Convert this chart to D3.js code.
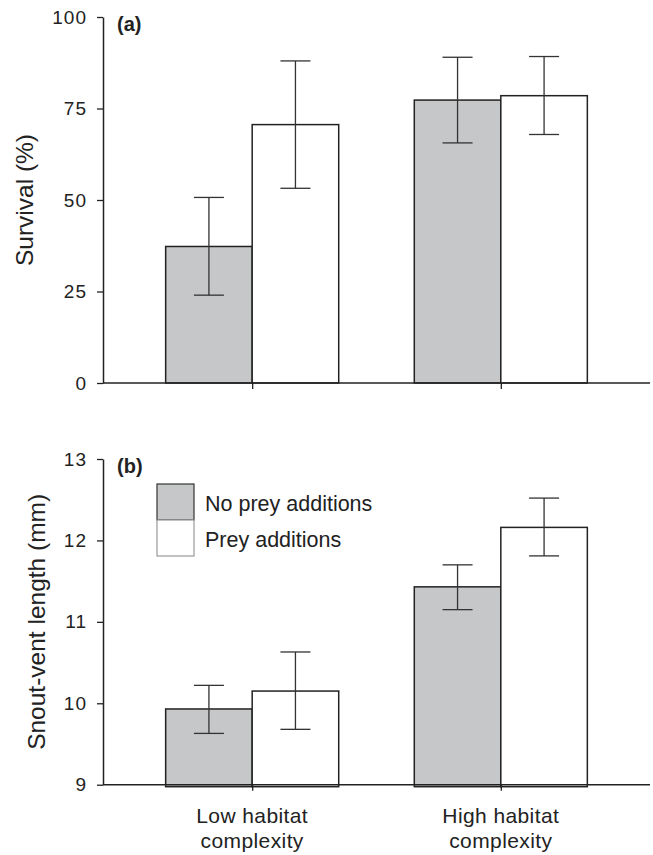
<!DOCTYPE html>
<html>
<head>
<meta charset="utf-8">
<title>Survival and snout-vent length</title>
<script src="https://d3js.org/d3.v7.min.js"></script>
<style>
  body { margin: 0; background: #fff; }
  svg { display: block; font-family: "Liberation Sans", Arial, Helvetica, sans-serif; }
  .yaxis text { fill: #222; font-size: 19px; letter-spacing: 1px; }
</style>
</head>
<body>
<svg id="chart"></svg>
<script>
// data
var categories = ["Low habitat complexity", "High habitat complexity"];
var categoryLines = [["Low habitat", "complexity"], ["High habitat", "complexity"]];
var series = ["No prey additions", "Prey additions"];

// panel (a) survival (%)
var survNoPrey = [37.3, 77.3];
var survNoPreyLow = [24.0, 65.6];
var survNoPreyHigh = [50.7, 89.0];
var survPrey = [70.6, 78.5];
var survPreyLow = [53.2, 67.9];
var survPreyHigh = [88.0, 89.2];
var survTicks = [0, 25, 50, 75, 100];

// panel (b) snout-vent length (mm)
var svlNoPrey = [9.93, 11.43];
var svlNoPreyLow = [9.63, 11.15];
var svlNoPreyHigh = [10.22, 11.70];
var svlPrey = [10.15, 12.16];
var svlPreyLow = [9.68, 11.81];
var svlPreyHigh = [10.63, 12.52];
var svlTicks = [9, 10, 11, 12, 13];

var fills = ["#c6c7c9", "#ffffff"];
var ink = "#222";

var width = 653, height = 855;
var svg = d3.select("#chart").attr("width", width).attr("height", height);

var x0 = d3.scaleBand().domain(categories).range([103, 650])
    .paddingInner(0.304).paddingOuter(0.252);
var x1 = d3.scaleBand().domain(series).range([0, x0.bandwidth()]);

function panel(opts) {
    var y = d3.scaleLinear().domain(opts.domain).range(opts.range);
    var g = svg.append("g");

    var rows = [];
    categories.forEach(function (c, i) {
        rows.push({cat: c, s: series[0], v: opts.a[i], lo: opts.aLo[i], hi: opts.aHi[i], f: fills[0]});
        rows.push({cat: c, s: series[1], v: opts.b[i], lo: opts.bLo[i], hi: opts.bHi[i], f: fills[1]});
    });

    // bars
    g.selectAll("rect.bar").data(rows).enter().append("rect")
        .attr("class", "bar")
        .attr("x", function (d) { return x0(d.cat) + x1(d.s); })
        .attr("width", x1.bandwidth())
        .attr("y", function (d) { return y(d.v); })
        .attr("height", function (d) { return y(opts.domain[0]) - y(d.v) + opts.drop; })
        .attr("fill", function (d) { return d.f; })
        .attr("stroke", ink)
        .attr("stroke-width", 1.5);

    // error bars
    var cap = 15;
    var eb = g.selectAll("g.err").data(rows).enter().append("g")
        .attr("class", "err")
        .attr("stroke", "#333")
        .attr("stroke-width", 1.3);
    function cx(d) { return x0(d.cat) + x1(d.s) + x1.bandwidth() / 2; }
    eb.append("line")
        .attr("x1", cx).attr("x2", cx)
        .attr("y1", function (d) { return y(d.lo); })
        .attr("y2", function (d) { return y(d.hi); });
    eb.append("line")
        .attr("x1", function (d) { return cx(d) - cap; })
        .attr("x2", function (d) { return cx(d) + cap; })
        .attr("y1", function (d) { return y(d.hi); })
        .attr("y2", function (d) { return y(d.hi); });
    eb.append("line")
        .attr("x1", function (d) { return cx(d) - cap; })
        .attr("x2", function (d) { return cx(d) + cap; })
        .attr("y1", function (d) { return y(d.lo); })
        .attr("y2", function (d) { return y(d.lo); });

    // y axis
    var ya = g.append("g").attr("class", "yaxis").attr("transform", "translate(103,0)")
        .call(d3.axisLeft(y).tickValues(opts.ticks).tickFormat(d3.format("d"))
            .tickSize(6).tickPadding(10).tickSizeOuter(0));
    ya.attr("font-size", 19).attr("font-family", "Liberation Sans, Arial, sans-serif");
    ya.select(".domain").attr("stroke", ink).attr("stroke-width", 1.5);
    ya.selectAll(".tick line").attr("stroke", ink).attr("stroke-width", 1.3);

    // x axis line and category ticks
    var y0 = y(opts.domain[0]);
    var xa = g.append("g").attr("transform", "translate(0," + y0 + ")")
        .call(d3.axisBottom(d3.scalePoint().domain(categories)
            .range([x0(categories[0]) + x0.bandwidth() / 2, x0(categories[1]) + x0.bandwidth() / 2]))
            .tickSize(6).tickFormat("").tickSizeOuter(0));
    xa.select(".domain").remove();
    xa.selectAll(".tick line").attr("stroke", ink).attr("stroke-width", 1.3);
    g.append("line").attr("x1", 103).attr("x2", 650).attr("y1", y0).attr("y2", y0)
        .attr("stroke", ink).attr("stroke-width", 1.5);

    // axis title
    g.append("text")
        .attr("transform", "translate(" + opts.titleX + "," + (y.range()[0] + y.range()[1]) / 2 + ") rotate(-90)")
        .attr("text-anchor", "middle")
        .attr("font-size", 24.5)
        .attr("fill", ink)
        .text(opts.title);

    // panel label
    g.append("text").attr("x", 117).attr("y", opts.labelY)
        .attr("font-size", 20).attr("font-weight", "bold").attr("fill", ink)
        .text(opts.label);

    return y;
}

panel({
    domain: [0, 100], range: [383, 17], ticks: survTicks,
    a: survNoPrey, aLo: survNoPreyLow, aHi: survNoPreyHigh,
    b: survPrey, bLo: survPreyLow, bHi: survPreyHigh,
    drop: 0, title: "Survival (%)", titleX: 33, label: "(a)", labelY: 31
});

panel({
    domain: [9, 13], range: [784.7, 459], ticks: svlTicks,
    a: svlNoPrey, aLo: svlNoPreyLow, aHi: svlNoPreyHigh,
    b: svlPrey, bLo: svlPreyLow, bHi: svlPreyHigh,
    drop: 2, title: "Snout-vent length (mm)", titleX: 45, label: "(b)", labelY: 473
});

// category labels, two lines each
categories.forEach(function (d, i) {
    var cxp = x0(d) + x0.bandwidth() / 2;
    svg.selectAll(null).data(categoryLines[i]).enter().append("text")
        .attr("class", "cat")
        .attr("x", cxp)
        .attr("y", function (line, j) { return 823 + j * 25; })
        .attr("text-anchor", "middle")
        .attr("font-size", 21)
        .attr("letter-spacing", 0.4)
        .attr("fill", ink)
        .text(function (line) { return line; });
});

// legend
var lg = svg.append("g").attr("transform", "translate(157,484)");
var item = lg.selectAll("g").data(series).enter().append("g")
    .attr("transform", function (d, i) { return "translate(0," + i * 36 + ")"; });
item.append("rect").attr("width", 37).attr("height", 36)
    .attr("fill", function (d, i) { return fills[i]; })
    .attr("stroke", function (d, i) { return i === 0 ? "#333" : "#999"; })
    .attr("stroke-width", 1.2);
item.append("text").attr("x", 48).attr("y", 26.5)
    .attr("font-size", 21.5).attr("fill", ink)
    .text(function (d) { return d; });
</script>
</body>
</html>
